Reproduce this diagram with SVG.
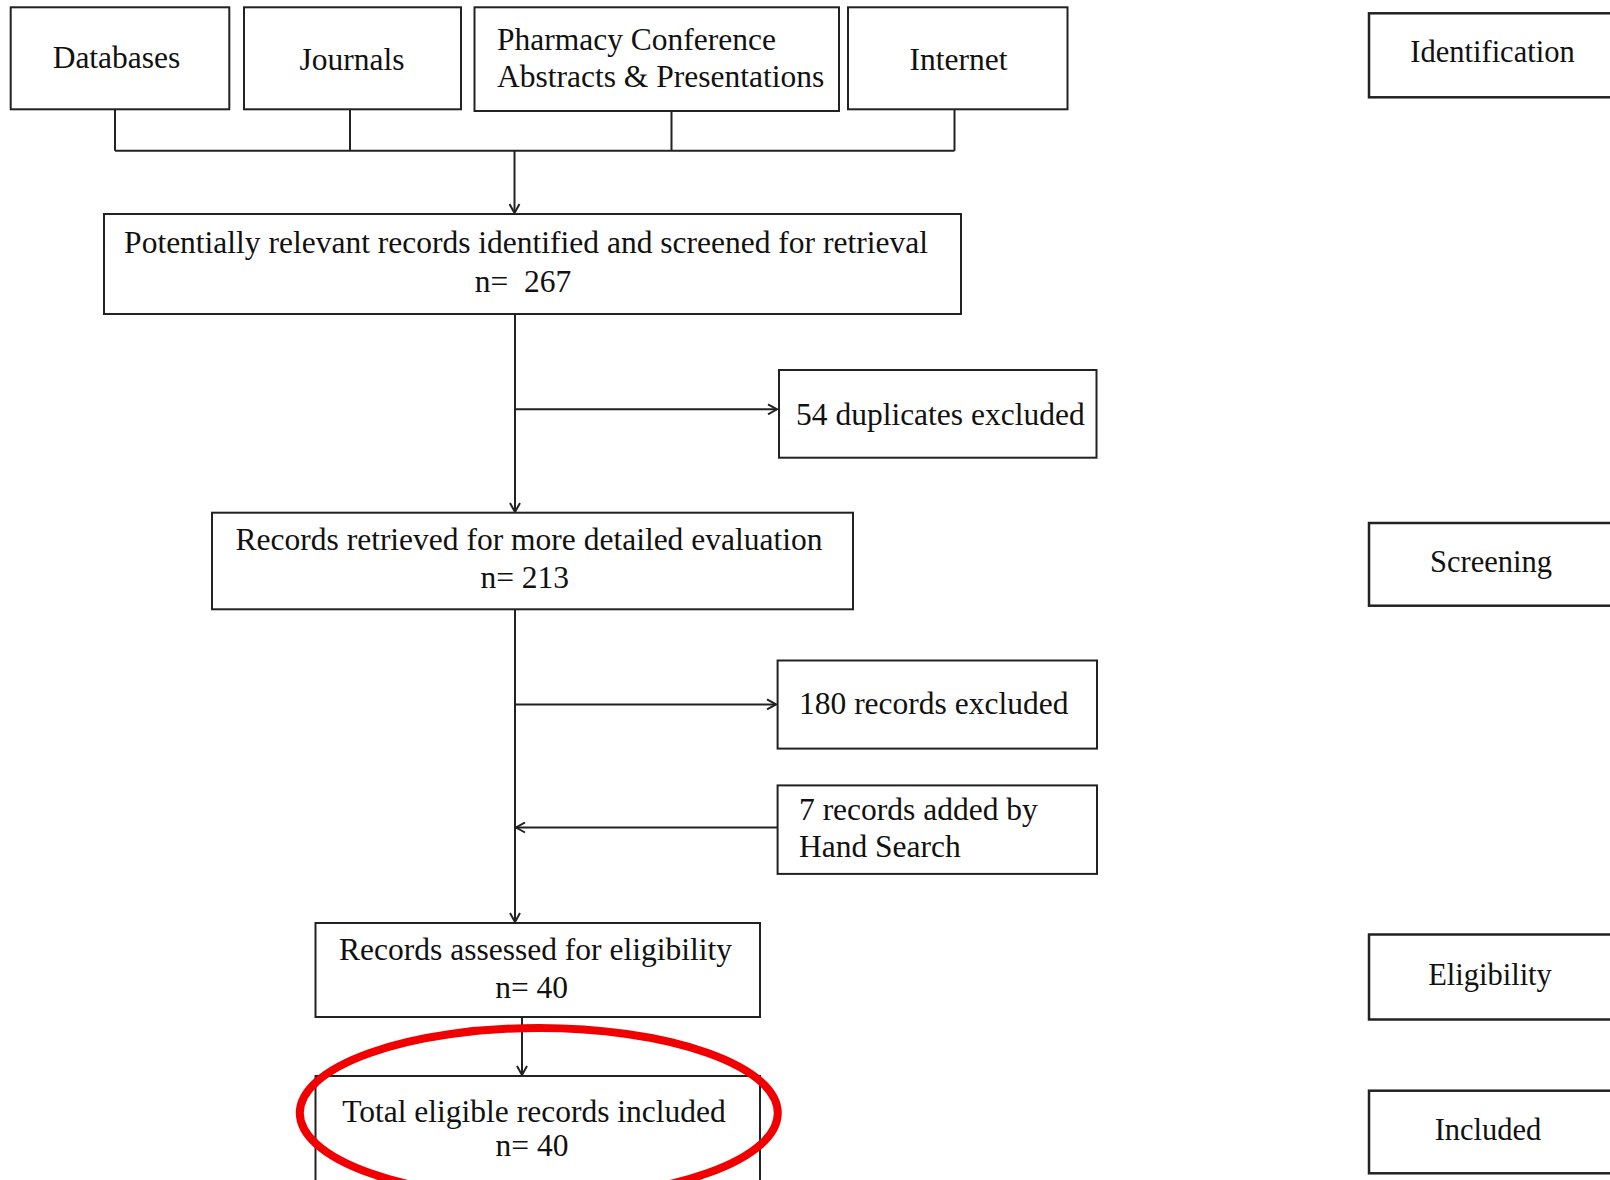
<svg xmlns="http://www.w3.org/2000/svg" width="1610" height="1180" viewBox="0 0 1610 1180">
<style>
.box{fill:#fff;stroke:#222;stroke-width:2}
.side{fill:#fff;stroke:#222;stroke-width:2.5}
.t{font-family:"Liberation Serif","Times New Roman",serif;font-size:31.5px;fill:#111}
.s{font-family:"Liberation Serif","Times New Roman",serif;font-size:30.5px;fill:#111;text-anchor:middle}
.m{text-anchor:middle}
.ln{fill:none;stroke:#222;stroke-width:2}
</style>
<defs>
<marker id="ah" markerWidth="12" markerHeight="12" refX="10" refY="6" orient="auto" markerUnits="userSpaceOnUse">
<path d="M1,1 L10,6 L1,11" fill="none" stroke="#222" stroke-width="2"/>
</marker>
</defs>
<rect width="1610" height="1180" fill="#fff"/>

<g id="connectors">
<path class="ln" d="M115,109 V150.7 M350,109 V150.7 M671.5,111 V150.7 M954.5,109 V150.7 M115,150.7 H954.5"/>
<line class="ln" x1="514.5" y1="150.7" x2="514.5" y2="213" marker-end="url(#ah)"/>
<line class="ln" x1="515" y1="314" x2="515" y2="512" marker-end="url(#ah)"/>
<line class="ln" x1="515" y1="409.3" x2="777" y2="409.3" marker-end="url(#ah)"/>
<line class="ln" x1="515" y1="609" x2="515" y2="922" marker-end="url(#ah)"/>
<line class="ln" x1="515" y1="704.4" x2="776" y2="704.4" marker-end="url(#ah)"/>
<line class="ln" x1="777.6" y1="827.5" x2="516" y2="827.5" marker-end="url(#ah)"/>
<line class="ln" x1="522" y1="1017" x2="522" y2="1075" marker-end="url(#ah)"/>
</g>

<g id="databases"><rect class="box" x="10.7" y="7.3" width="218.6" height="102"/><text class="t m" x="116.5" y="68.3">Databases</text></g>
<g id="journals"><rect class="box" x="244" y="7.3" width="217" height="102"/><text class="t m" x="352" y="69.5">Journals</text></g>
<g id="pharmacy"><rect class="box" x="474.5" y="7.3" width="364.5" height="103.7"/><text class="t" x="497" y="50">Pharmacy Conference</text><text class="t" x="497" y="87.3">Abstracts &amp; Presentations</text></g>
<g id="internet"><rect class="box" x="848" y="7.3" width="219.5" height="102"/><text class="t m" x="958.5" y="70">Internet</text></g>

<g id="potentially"><rect class="box" x="104" y="214" width="857" height="100"/><text class="t m" x="526" y="253">Potentially relevant records identified and screened for retrieval</text><text class="t m" x="523" y="292" xml:space="preserve">n=  267</text></g>

<g id="duplicates"><rect class="box" x="779" y="370" width="317.5" height="87.7"/><text class="t" x="796" y="425">54 duplicates excluded</text></g>

<g id="retrieved"><rect class="box" x="212" y="512.7" width="641" height="96.6"/><text class="t m" x="529" y="550">Records retrieved for more detailed evaluation</text><text class="t m" x="524.7" y="588.3">n= 213</text></g>

<g id="excluded180"><rect class="box" x="777.6" y="660.5" width="319.4" height="88.1"/><text class="t" x="799" y="714">180 records excluded</text></g>

<g id="handsearch"><rect class="box" x="777.6" y="785.4" width="319.4" height="88.5"/><text class="t" x="799" y="819.5">7 records added by</text><text class="t" x="799" y="857.4">Hand Search</text></g>

<g id="assessed"><rect class="box" x="315.5" y="923" width="444.5" height="94"/><text class="t m" x="535.5" y="960">Records assessed for eligibility</text><text class="t m" x="531.6" y="998">n= 40</text></g>

<g id="total"><rect class="box" x="315.5" y="1076" width="444.5" height="130"/><text class="t m" x="534" y="1122">Total eligible records included</text><text class="t m" x="532" y="1156">n= 40</text></g>

<g id="highlight"><ellipse cx="538.8" cy="1113" rx="239" ry="85" fill="none" stroke="#f00000" stroke-width="8"/></g>

<g id="identification"><rect class="side" x="1369" y="13.3" width="245" height="84"/><text class="s" x="1492.5" y="62.3">Identification</text></g>
<g id="screening"><rect class="side" x="1369" y="523" width="245" height="82.7"/><text class="s" x="1491" y="572">Screening</text></g>
<g id="eligibility"><rect class="side" x="1369" y="934.5" width="245" height="85"/><text class="s" x="1490" y="985">Eligibility</text></g>
<g id="included"><rect class="side" x="1369" y="1090.7" width="245" height="82.6"/><text class="s" x="1488" y="1140">Included</text></g>
</svg>
